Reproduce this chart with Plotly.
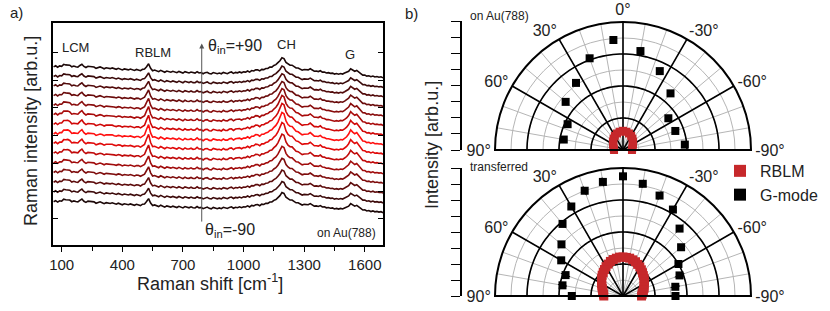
import plotly.graph_objects as go

# ---------------- panel a) Raman spectra ----------------
raman_shift = list(range(60, 1691, 10))

background = [
    0, 3, -2, 2, -1, 4, 0, -3, 1, -2,
    2, -1, -4, 0, 3, -2, -4, 1, -1, -5,
    -2, -6, -3, -1, -5, -8, -4, -6, -9, -5,
    -7, -10, -6, -9, -12, -8, -10, -13, -9, -11,
    -14, -10, -12, -15, -11, -13, -16, -12, -14, -17,
    -13, -15, -18, -14, -17, -20, -16, -18, -21, -17,
    -19, -22, -18, -21, -23, -19, -22, -24, -20, -23,
    -25, -21, -24, -22, -26, -23, -21, -25, -27, -23,
    -25, -28, -24, -26, -22, -25, -27, -24, -21, -25,
    -23, -26, -22, -24, -21, -23, -20, -23, -19, -22,
    -20, -18, -21, -17, -19, -16, -18, -15, -17, -14,
    -15, -13, -14, -12, -13, -15, -14, -16, -15, -17,
    -18, -16, -19, -21, -18, -20, -22, -19, -21, -24,
    -22, -25, -23, -26, -24, -27, -25, -28, -26, -29,
    -27, -30, -28, -31, -29, -30, -32, -29, -31, -33,
    -31, -34, -32, -35, -33, -36, -34, -37, -35, -38,
    -36, -39, -37, -40,
]

peak_profile = [
    2, 4, 3, 5, 8, 12, 16, 20, 12, 6,
    4, 5, 8, 12, 15, 9, 5, 4, 6, 8,
    5, 3, 4, 3, 5, 4, 3, 5, 7, 4,
    3, 4, 3, 5, 4, 3, 4, 6, 4, 3,
    4, 3, 5, 4, 6, 12, 35, 48, 20, 8,
    5, 4, 3, 5, 4, 3, 4, 3, 5, 4,
    3, 4, 5, 4, 3, 5, 4, 6, 5, 4,
    7, 9, 6, 5, 4, 6, 5, 4, 5, 7,
    6, 8, 5, 4, 6, 5, 7, 9, 7, 5,
    8, 11, 9, 7, 8, 10, 12, 10, 13, 16,
    20, 17, 15, 18, 20, 22, 26, 30, 34, 40,
    48, 58, 74, 92, 88, 64, 50, 46, 44, 36,
    30, 26, 22, 20, 19, 21, 24, 26, 22, 18,
    16, 18, 20, 16, 13, 12, 10, 11, 9, 8,
    8, 9, 10, 12, 15, 22, 34, 46, 40, 36,
    38, 30, 18, 12, 9, 7, 6, 5, 6, 5,
    4, 5, 4, 3,
]

curve_offsets = [647, 612, 578, 543, 508, 474, 439, 404, 370, 335, 300, 266, 231, 196, 161]
peak_scales = [0.5, 0.55, 0.62, 0.7, 0.8, 0.9, 0.97, 1.0, 0.97, 0.9, 0.8, 0.7, 0.62, 0.55, 0.5]
curve_colors = ['#1c0808', '#3a0a0a', '#520b0b', '#6a0c0c', '#880c0c', '#a80a0a', '#d00808',
                '#ff1010', '#e00a0a', '#c00a0a', '#a00c0c', '#7e0c0c', '#5c0b0b', '#3c0a0a', '#1c0808']

x_ticks = [100, 400, 700, 1000, 1300, 1600]
y_ticks = [100, 200, 300, 400, 500, 600, 700]

# ---------------- panel b) polar plots ----------------
g_top_theta = [-85, -70, -55, -40, -25, -10, 5, 20, 35, 50, 65, 80]
g_top_r = [1.94, 1.74, 1.73, 2.31, 2.72, 3.14, 3.45, 3.05, 2.56, 2.34, 1.91, 1.88]

rblm_top_theta = [-90, -80, -70, -60, -50, -40, -30, -20, -10, 0, 10, 20, 30, 40, 50, 60, 70, 80, 90]
rblm_top_r = [0.28, 0.29, 0.32, 0.36, 0.41, 0.46, 0.51, 0.55, 0.58, 0.60,
              0.58, 0.55, 0.51, 0.46, 0.41, 0.36, 0.32, 0.29, 0.28]

g_bot_theta = [-90, -80, -70, -60, -50, -40, -30, -20, -10, 0, 10, 20, 30, 40, 50, 60, 70, 80, 90]
g_bot_r = [1.64, 1.66, 1.88, 2.0, 2.37, 2.75, 3.12, 3.34, 3.56, 3.74,
           3.62, 3.50, 3.23, 2.94, 2.51, 2.23, 1.91, 1.92, 1.60]
g_bot_err = [0.14, 0.15, 0.16, 0.15, 0.14, 0.16, 0.15, 0.14, 0.13, 0.15,
             0.14, 0.15, 0.16, 0.14, 0.15, 0.16, 0.15, 0.14, 0.13]

rblm_bot_theta = list(range(-90, 91, 5))
rblm_bot_r = [0.58, 0.60, 0.62, 0.66, 0.70, 0.73, 0.76, 0.82, 0.86, 0.90, 0.95, 1.00, 1.05,
              1.09, 1.14, 1.17, 1.20, 1.21, 1.22, 1.22, 1.20, 1.18, 1.15, 1.10, 1.06, 1.01,
              0.96, 0.92, 0.87, 0.82, 0.77, 0.73, 0.69, 0.66, 0.63, 0.61, 0.60]

angle_ticks = [-90, -80, -70, -60, -50, -40, -30, -20, -10, 0, 10, 20, 30, 40, 50, 60, 70, 80, 90]
angle_labels_top = ['-90°', '', '', '-60°', '', '', '-30°', '', '', '0°', '', '', '30°', '', '', '60°', '', '', '90°']
angle_labels_bottom = ['-90°', '', '', '-60°', '', '', '-30°', '', '', '', '', '', '30°', '', '', '60°', '', '', '90°']

RED = '#c6282b'
FONT = 'Liberation Sans, Arial, sans-serif'

fig = go.Figure()

# spectra, outer curves first, brightest middle last
order = [0, 14, 1, 13, 2, 12, 3, 11, 4, 10, 5, 9, 6, 8, 7]
for i in order:
    ys = [curve_offsets[i] + b + peak_scales[i] * p for b, p in zip(background, peak_profile)]
    fig.add_trace(go.Scatter(x=raman_shift, y=ys, mode='lines',
                             line=dict(color=curve_colors[i], width=1.6),
                             showlegend=False, hoverinfo='skip', xaxis='x', yaxis='y'))

# polar grid helpers (black major lines)
arc_theta = list(range(-90, 91, 2))
for sp in ['polar', 'polar2']:
    for rr in [1, 2, 3]:
        fig.add_trace(go.Scatterpolar(r=[rr] * len(arc_theta), theta=arc_theta, mode='lines',
                                      line=dict(color='black', width=1.6), subplot=sp,
                                      showlegend=False, hoverinfo='skip'))
    for ang in [-60, -30, 0, 30, 60]:
        fig.add_trace(go.Scatterpolar(r=[0, 4], theta=[ang, ang], mode='lines',
                                      line=dict(color='black', width=1.6), subplot=sp,
                                      showlegend=False, hoverinfo='skip'))
    fig.add_trace(go.Scatterpolar(r=[4, 0, 4], theta=[90, 0, -90], mode='lines',
                                  line=dict(color='black', width=1.6), subplot=sp,
                                  showlegend=False, hoverinfo='skip'))

# top polar data
fig.add_trace(go.Scatterpolar(r=rblm_top_r, theta=rblm_top_theta, mode='markers', subplot='polar',
                              marker=dict(symbol='square', size=8, color=RED),
                              showlegend=False, hoverinfo='skip'))
fig.add_trace(go.Scatterpolar(r=g_top_r, theta=g_top_theta, mode='markers', subplot='polar',
                              marker=dict(symbol='square', size=8, color='black'),
                              showlegend=False, hoverinfo='skip'))

# bottom polar data
fig.add_trace(go.Scatterpolar(r=rblm_bot_r, theta=rblm_bot_theta, mode='markers', subplot='polar2',
                              marker=dict(symbol='square', size=9, color=RED),
                              name='RBLM', hoverinfo='skip'))
err_r, err_t = [], []
for t, r, e in zip(g_bot_theta, g_bot_r, g_bot_err):
    err_r += [r - e, r + e, None]
    err_t += [t, t, None]
fig.add_trace(go.Scatterpolar(r=err_r, theta=err_t, mode='lines', subplot='polar2',
                              line=dict(color='black', width=1), showlegend=False, hoverinfo='skip'))
fig.add_trace(go.Scatterpolar(r=g_bot_r, theta=g_bot_theta, mode='markers', subplot='polar2',
                              marker=dict(symbol='square', size=8, color='black'),
                              name='G-mode', hoverinfo='skip'))

# dummy traces for the left intensity axes of panel b
for ya in ['y2', 'y3']:
    fig.add_trace(go.Scatter(x=[0.5], y=[-1], mode='markers', marker=dict(opacity=0),
                             xaxis='x2', yaxis=ya, showlegend=False, hoverinfo='skip'))


def polar_layout(ydom, labels):
    return dict(
        domain=dict(x=[495 / 830, 751 / 830], y=ydom),
        sector=[0, 180], bgcolor='white',
        angularaxis=dict(rotation=90, direction='counterclockwise', tickmode='array',
                         tickvals=angle_ticks, ticktext=labels, ticks='',
                         showline=True, linecolor='black', linewidth=2,
                         gridcolor='#b5b5b5', gridwidth=1,
                         tickfont=dict(size=16, color='#222', family=FONT)),
        radialaxis=dict(range=[0, 4], dtick=0.5, showticklabels=False, ticks='',
                        showline=False, gridcolor='#b5b5b5', gridwidth=1),
    )


ax_common = dict(showline=True, linecolor='black', linewidth=1.5, showgrid=False, zeroline=False)

fig.update_layout(
    width=830, height=311, margin=dict(l=0, r=0, t=0, b=0, autoexpand=False),
    paper_bgcolor='white', plot_bgcolor='white',
    font=dict(family=FONT, color='#222'),
    xaxis=dict(domain=[53 / 830, 383 / 830], range=[57, 1690], tickvals=x_ticks,
               ticks='outside', ticklen=5, tickwidth=1.2, tickcolor='black', mirror=True,
               tickfont=dict(size=15, color='#222'),
               minor=dict(ticks='outside', dtick=150, tick0=100, ticklen=4, tickcolor='black'),
               **ax_common),
    yaxis=dict(domain=[66 / 311, 288 / 311], range=[6, 806], tickvals=y_ticks,
               ticks='inside', ticklen=5, tickwidth=1.2, tickcolor='black', mirror='allticks',
               showticklabels=False, **ax_common),
    xaxis2=dict(domain=[462 / 830, 0.58], range=[0, 1], visible=False),
    yaxis2=dict(domain=[161 / 311, 290 / 311], range=[0, 4.0], anchor='x2', dtick=0.5,
                ticks='outside', ticklen=9, tickwidth=1.2, tickcolor='black',
                showticklabels=False, **ax_common),
    yaxis3=dict(domain=[15 / 311, 143 / 311], range=[0, 4.0], anchor='x2', dtick=0.5,
                ticks='outside', ticklen=9, tickwidth=1.2, tickcolor='black',
                showticklabels=False, **ax_common),
    polar=polar_layout([161 / 311, 289 / 311], angle_labels_top),
    polar2=polar_layout([15 / 311, 143 / 311], angle_labels_bottom),
    legend=dict(x=720 / 830, y=0.505, xanchor='left', yanchor='top', bgcolor='rgba(0,0,0,0)',
                font=dict(size=16, color='#222'), itemsizing='constant', tracegroupgap=0),
    showlegend=True,
)

ann = []


def add_text(text, x, y, size, xref='paper', yref='paper', xanchor='center', angle=0):
    ann.append(dict(text=text, x=x, y=y, xref=xref, yref=yref, xanchor=xanchor, yanchor='middle',
                    textangle=angle, showarrow=False, font=dict(size=size)))


# panel a text
add_text('Raman intensity [arb.u.]', 31 / 830, 0.579, 18, angle=-90)
add_text('Raman shift [cm<sup>-1</sup>]', 210 / 830, 0.093, 18)
add_text('a)', 8 / 830, 1 - 12 / 311, 15, xanchor='left')
add_text('b)', 403 / 830, 1 - 14 / 311, 15, xanchor='left')
for txt, xv, yv in [('LCM', 166, 716), ('RBLM', 552, 701), ('CH', 1214, 727), ('G', 1525, 691)]:
    add_text(txt, xv, yv, 13, xref='x', yref='y')
ann.append(dict(text='', x=793, y=732, ax=793, ay=85, xref='x', yref='y', axref='x', ayref='y',
                showarrow=True, arrowhead=2, arrowsize=1, arrowwidth=1, arrowcolor='#555'))
add_text('θ<sub>in</sub>=+90', 815, 723, 16, xref='x', yref='y', xanchor='left')
add_text('θ<sub>in</sub>=-90', 798, 58, 16, xref='x', yref='y', xanchor='left')
add_text('on Au(788)', 1665, 49, 12, xref='x', yref='y', xanchor='right')
# panel b text
add_text('Intensity [arb.u.]', 432 / 830, 0.534, 18, angle=-90)
add_text('on Au(788)', 468 / 830, 1 - 16 / 311, 12, xanchor='left')
add_text('transferred', 468 / 830, 1 - 167 / 311, 12, xanchor='left')
fig.update_layout(annotations=ann)

fig.write_html('out.html', config={'displayModeBar': False},
               post_script="document.body.style.margin='0px';")
